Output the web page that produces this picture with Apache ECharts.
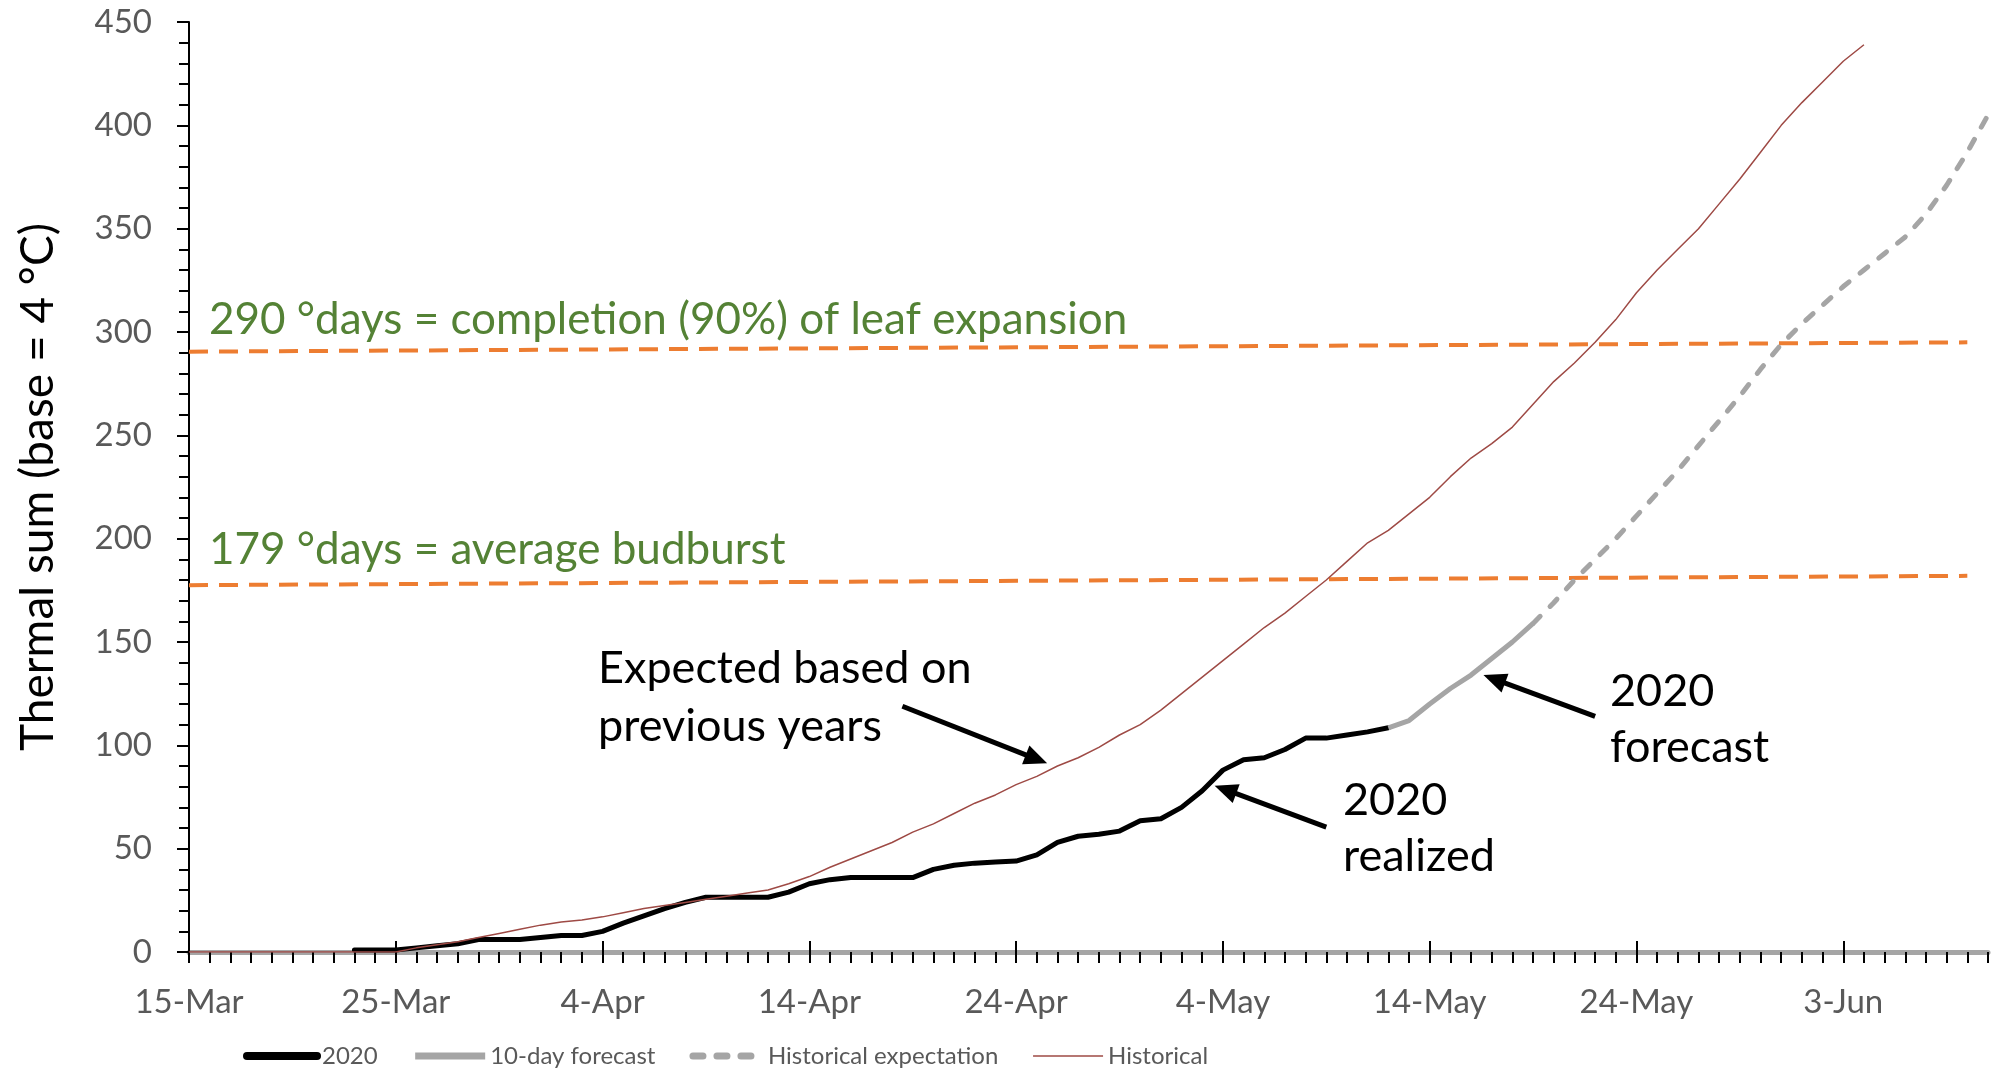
<html style="height: 100%">

<head>
    <meta charset="utf-8">
</head>

<body style="height: 100%; margin: 0; background: #fff">
    <div id="container" style="width: 2003px; height: 1068px"></div>

    <script type="text/javascript" src="https://cdn.jsdelivr.net/npm/echarts@6.0.0/dist/echarts.min.js"></script>

    <script type="text/javascript">
        // x axis: one category per day, 15-Mar .. 10-Jun 2020
        var monthNames = ['Jan', 'Feb', 'Mar', 'Apr', 'May', 'Jun'];
        var dates = [];
        for (var i = 0; i < 88; i++) {
            var d = new Date(2020, 2, 15 + i);
            dates.push(d.getDate() + '-' + monthNames[d.getMonth()]);
        }

        // each series: first day index + daily values
        var realizedStart = 8;
        var realized = [1, 1, 1, 2, 3, 4, 6, 6, 6, 7, 8, 8, 10, 14, 17.5, 21, 24, 26.5, 26.5,
            26.5, 26.5, 29, 33, 35, 36, 36, 36, 36, 40, 42, 43, 43.5, 44, 47, 53, 56, 57, 58.5,
            63.5, 64.5, 70, 78, 88, 93, 94, 98, 103.5, 103.5, 105, 106.5, 108.5];

        var forecastStart = 58;
        var forecast = [108.5, 112, 120, 127.5, 134, 142, 150, 159];

        var expectationStart = 65;
        var expectation = [159, 169, 180, 190, 200, 211, 222, 233, 245, 257, 269, 282, 294,
            304, 313, 322, 330, 338, 346, 357, 371, 387, 405];

        var historicalStart = 0;
        var historical = [0, 0, 0, 0, 0, 0, 0, 0, 0, 0, 0, 2, 3.5, 5, 7, 9, 11, 13, 14.5, 15.5,
            17, 19, 21, 22.5, 24, 25.5, 27, 28.5, 30, 33, 36.5, 41, 45, 49, 53, 58, 62, 67, 72,
            76, 81, 85, 90, 94, 99, 105, 110, 117, 125, 133, 141, 149, 157, 164, 172, 180, 189,
            198, 204, 212, 220, 230, 239, 246, 254, 265, 276, 285, 295, 306, 319, 330, 340, 350,
            362, 374, 387, 400, 411, 421, 431, 439];

        // threshold lines: [start day, end day] and [start value, end value]
        var thresholdDays = [0, 86];
        var budburstLine = [177.5, 182];
        var leafLine = [290.5, 295];

        var yTicks = { min: 0, max: 450, step: 50 };

        // annotation arrows in data units: [day, value] tail -> tip
        var arrows = [
            { from: [34.5, 118.9], to: [41.5, 91.3] },
            { from: [55.0, 60.4], to: [49.6, 80.5] },
            { from: [68.0, 114], to: [62.6, 134] }
        ];

        function pairs(start, values) {
            return values.map(function (v, k) { return [start + k, v]; });
        }

        var chartDom = document.getElementById('container');
        var myChart = echarts.init(chartDom);
        var option;

        var axisBlack = { color: '#000', width: 2 };
        var labelGrey = '#595959';

        option = {
            animation: false,
            backgroundColor: '#fff',
            textStyle: { fontFamily: 'Lato' },
            grid: { left: 189, right: 15, top: 22, bottom: 116 },
            legend: {
                left: 238,
                top: 1039,
                itemWidth: 70,
                itemHeight: 10,
                itemGap: 34,
                itemStyle: { opacity: 0 },
                textStyle: { color: labelGrey, fontSize: 24, fontFamily: 'Lato' },
                data: [
                    { name: '2020', lineStyle: { width: 8 } },
                    { name: '10-day forecast', lineStyle: { width: 7 } },
                    { name: 'Historical expectation', lineStyle: { width: 7 } },
                    { name: 'Historical', lineStyle: { width: 1.5 } }
                ]
            },
            xAxis: [{
                type: 'category',
                data: dates,
                boundaryGap: false,
                axisLine: { lineStyle: { color: '#A5A5A5', width: 5 } },
                axisTick: { interval: 0, length: 11, lineStyle: axisBlack },
                axisLabel: { interval: 9, color: labelGrey, fontSize: 33, margin: 34 },
                splitLine: { show: false }
            }, {
                // major ticks crossing the axis
                type: 'category',
                data: dates,
                boundaryGap: false,
                position: 'bottom',
                axisLine: { show: false },
                axisTick: { interval: 9, inside: true, length: 11, lineStyle: axisBlack },
                axisLabel: { show: false },
                splitLine: { show: false }
            }],
            yAxis: {
                type: 'value',
                min: yTicks.min,
                max: yTicks.max,
                interval: yTicks.step,
                name: 'Thermal sum (base = 4 °C)',
                nameLocation: 'middle',
                nameGap: 128,
                nameTextStyle: { color: '#000', fontSize: 46, fontFamily: 'Lato' },
                axisLine: { show: true, lineStyle: axisBlack },
                axisTick: { show: true, length: 12, lineStyle: axisBlack },
                minorTick: { show: true, splitNumber: 5, length: 10, lineStyle: axisBlack },
                splitLine: { show: false },
                axisLabel: { color: labelGrey, fontSize: 33, margin: 37 }
            },
            series: [{
                name: 'leaf',
                type: 'line',
                symbol: 'none',
                silent: true,
                lineStyle: { color: '#ED7D31', width: 4, type: [19, 11] },
                data: [[thresholdDays[0], leafLine[0]], [thresholdDays[1], leafLine[1]]]
            }, {
                name: 'budburst',
                type: 'line',
                symbol: 'none',
                silent: true,
                lineStyle: { color: '#ED7D31', width: 4, type: [19, 11] },
                data: [[thresholdDays[0], budburstLine[0]], [thresholdDays[1], budburstLine[1]]]
            }, {
                name: '2020',
                type: 'line',
                symbol: 'none',
                itemStyle: { color: '#000' },
                lineStyle: { color: '#000', width: 5, join: 'round', cap: 'round' },
                data: pairs(realizedStart, realized)
            }, {
                name: '10-day forecast',
                type: 'line',
                symbol: 'none',
                itemStyle: { color: '#A5A5A5' },
                lineStyle: { color: '#A5A5A5', width: 5, join: 'round' },
                data: pairs(forecastStart, forecast)
            }, {
                name: 'Historical expectation',
                type: 'line',
                symbol: 'none',
                itemStyle: { color: '#A5A5A5' },
                lineStyle: { color: '#A5A5A5', width: 5, type: [10, 14], cap: 'round' },
                data: pairs(expectationStart, expectation)
            }, {
                name: 'Historical',
                type: 'line',
                symbol: 'none',
                itemStyle: { color: '#9E4A45' },
                lineStyle: { color: '#9E4A45', width: 1.5 },
                data: pairs(historicalStart, historical)
            }]
        };

        option && myChart.setOption(option);

        // annotations
        var p0 = myChart.convertToPixel({ xAxisIndex: 0, yAxisIndex: 0 }, [0, 0]);
        var p1 = myChart.convertToPixel({ xAxisIndex: 0, yAxisIndex: 0 }, [87, 450]);
        function toPx(pt) {
            return [p0[0] + pt[0] * (p1[0] - p0[0]) / 87, p0[1] + pt[1] * (p1[1] - p0[1]) / 450];
        }

        var graphics = [];
        arrows.forEach(function (a) {
            var s = toPx(a.from), t = toPx(a.to);
            var dx = t[0] - s[0], dy = t[1] - s[1];
            var len = Math.sqrt(dx * dx + dy * dy);
            var ux = dx / len, uy = dy / len;
            var headLen = 23, headHalf = 10;
            var bx = t[0] - ux * headLen, by = t[1] - uy * headLen;
            graphics.push({
                type: 'line',
                shape: { x1: s[0], y1: s[1], x2: bx + ux * 2, y2: by + uy * 2 },
                style: { stroke: '#000', lineWidth: 5 }
            });
            graphics.push({
                type: 'polygon',
                shape: { points: [t, [bx - uy * headHalf, by + ux * headHalf], [bx + uy * headHalf, by - ux * headHalf]] },
                style: { fill: '#000' }
            });
        });

        var notes = [
            { text: '290 °days = completion (90%) of leaf expansion', x: 209, y: 320, size: 44, color: '#548235' },
            { text: '179 °days = average budburst', x: 209, y: 550, size: 44, color: '#548235' },
            { text: 'Expected based on', x: 598, y: 668, size: 45, color: '#000' },
            { text: 'previous years', x: 598, y: 726, size: 45, color: '#000' },
            { text: '2020', x: 1343, y: 800, size: 45, color: '#000' },
            { text: 'realized', x: 1343, y: 856, size: 45, color: '#000' },
            { text: '2020', x: 1610, y: 691, size: 45, color: '#000' },
            { text: 'forecast', x: 1610, y: 747, size: 45, color: '#000' }
        ];
        notes.forEach(function (n) {
            graphics.push({
                type: 'text',
                x: n.x,
                y: n.y,
                style: {
                    text: n.text,
                    fill: n.color,
                    font: n.size + 'px Lato',
                    align: 'left',
                    verticalAlign: 'middle'
                }
            });
        });

        myChart.setOption({ graphic: graphics });
    </script>
</body>

</html>
